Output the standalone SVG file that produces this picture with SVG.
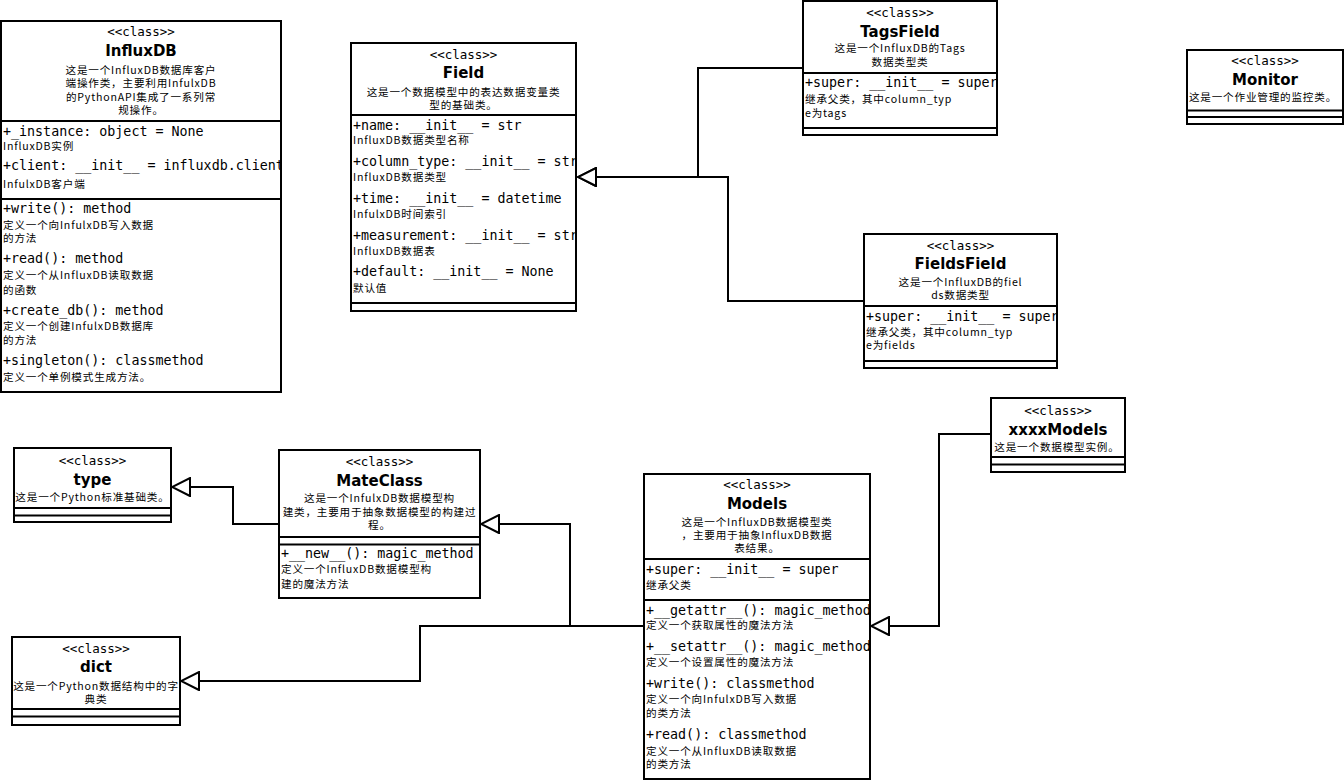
<svg xmlns="http://www.w3.org/2000/svg" width="1344" height="780" viewBox="0 0 1344 780">
<style>
.box{fill:#fff;stroke:#000;stroke-width:2}
.sep{stroke:#000;stroke-width:2}
.st{font-family:"DejaVu Sans Mono",monospace;font-size:12.5px;text-anchor:middle}
.nm{font-family:"DejaVu Sans",sans-serif;font-weight:bold;font-size:15px;text-anchor:middle}
.ds{font-family:"Noto Sans CJK SC",sans-serif;font-size:10.6px;letter-spacing:0.8px;text-anchor:middle}
.at{font-family:"DejaVu Sans Mono",monospace;font-size:13.33px}
.nt{font-family:"Noto Sans CJK SC",sans-serif;font-size:10.6px;letter-spacing:0.8px}
.conn{fill:none;stroke:#000;stroke-width:2;marker-end:url(#tri)}
</style>
<defs>
<marker id="tri" viewBox="0 0 20 20" refX="19" refY="10" markerWidth="20" markerHeight="20" markerUnits="userSpaceOnUse" orient="auto">
<path d="M1,1 L19,10 L1,19 Z" fill="#fff" stroke="#000" stroke-width="2"/>
</marker>
<clipPath id="c1"><rect x="1" y="21" width="280" height="371"/></clipPath>
<clipPath id="c2"><rect x="351" y="43" width="225" height="268"/></clipPath>
<clipPath id="c3"><rect x="803" y="1" width="194" height="134"/></clipPath>
<clipPath id="c4"><rect x="864" y="234" width="193" height="134"/></clipPath>
<clipPath id="c5"><rect x="1187" y="50" width="156" height="74"/></clipPath>
<clipPath id="c6"><rect x="14" y="448" width="157" height="74"/></clipPath>
<clipPath id="c7"><rect x="279" y="450" width="201" height="148"/></clipPath>
<clipPath id="c8"><rect x="12" y="637" width="168" height="88"/></clipPath>
<clipPath id="c9"><rect x="644" y="474" width="226" height="305"/></clipPath>
<clipPath id="c10"><rect x="991" y="398" width="134" height="74"/></clipPath>
</defs>
<rect width="1344" height="780" fill="#fff"/>

<g id="connectors">
<path class="conn" d="M803,68 H698 V177 H578"/>
<path class="conn" d="M864,301 H728 V177 H578"/>
<path class="conn" d="M279,524 H233 V487 H172"/>
<path class="conn" d="M644,626 H570 V524 H481"/>
<path class="conn" d="M644,626 H420 V681 H181"/>
<path class="conn" d="M991,434 H939 V626 H871"/>
</g>

<g id="InfluxDB">
<rect class="box" x="1" y="21" width="280" height="371"/>
<line class="sep" x1="1" y1="121" x2="281" y2="121"/>
<line class="sep" x1="1" y1="199" x2="281" y2="199"/>
<g clip-path="url(#c1)">
<text class="st" x="141" y="36">&lt;&lt;class&gt;&gt;</text>
<text class="nm" x="141" y="56">InfluxDB</text>
<text class="ds" x="141" y="73.5">这是一个InfluxDB数据库客户</text>
<text class="ds" x="141" y="87">端操作类，主要利用InfulxDB</text>
<text class="ds" x="141" y="100.5">的PythonAPI集成了一系列常</text>
<text class="ds" x="141" y="114">规操作。</text>
<text class="at" x="3" y="135.5">+_instance: object = None</text>
<text class="nt" x="3" y="150">InfluxDB实例</text>
<text class="at" x="3" y="170">+client: __init__ = influxdb.client</text>
<text class="nt" x="3" y="187.5">InfulxDB客户端</text>
<text class="at" x="3" y="212.5">+write(): method</text>
<text class="nt" x="3" y="229">定义一个向InfulxDB写入数据</text>
<text class="nt" x="3" y="242">的方法</text>
<text class="at" x="3" y="262.5">+read(): method</text>
<text class="nt" x="3" y="279">定义一个从InfluxDB读取数据</text>
<text class="nt" x="3" y="294">的函数</text>
<text class="at" x="3" y="314.5">+create_db(): method</text>
<text class="nt" x="3" y="330">定义一个创建InfulxDB数据库</text>
<text class="nt" x="3" y="344">的方法</text>
<text class="at" x="3" y="364.5">+singleton(): classmethod</text>
<text class="nt" x="3" y="381">定义一个单例模式生成方法。</text>
</g>
</g>

<g id="Field">
<rect class="box" x="351" y="43" width="225" height="268"/>
<line class="sep" x1="351" y1="115" x2="576" y2="115"/>
<line class="sep" x1="351" y1="303" x2="576" y2="303"/>
<g clip-path="url(#c2)">
<text class="st" x="463.5" y="59">&lt;&lt;class&gt;&gt;</text>
<text class="nm" x="463.5" y="78">Field</text>
<text class="ds" x="463.5" y="96">这是一个数据模型中的表达数据变量类</text>
<text class="ds" x="463.5" y="109">型的基础类。</text>
<text class="at" x="353" y="129.5">+name: __init__ = str</text>
<text class="nt" x="353" y="144">InfluxDB数据类型名称</text>
<text class="at" x="353" y="166">+column_type: __init__ = str</text>
<text class="nt" x="353" y="181">InfluxDB数据类型</text>
<text class="at" x="353" y="202.5">+time: __init__ = datetime</text>
<text class="nt" x="353" y="218">InfulxDB时间索引</text>
<text class="at" x="353" y="239.5">+measurement: __init__ = str</text>
<text class="nt" x="353" y="255">InfluxDB数据表</text>
<text class="at" x="353" y="276">+default: __init__ = None</text>
<text class="nt" x="353" y="292">默认值</text>
</g>
</g>

<g id="TagsField">
<rect class="box" x="803" y="1" width="194" height="134"/>
<line class="sep" x1="803" y1="73" x2="997" y2="73"/>
<line class="sep" x1="803" y1="128" x2="997" y2="128"/>
<g clip-path="url(#c3)">
<text class="st" x="900" y="17">&lt;&lt;class&gt;&gt;</text>
<text class="nm" x="900" y="37">TagsField</text>
<text class="ds" x="900" y="52">这是一个InfluxDB的Tags</text>
<text class="ds" x="900" y="66">数据类型类</text>
<text class="at" x="805" y="86.5">+super: __init__ = super</text>
<text class="nt" x="805" y="103">继承父类，其中column_typ</text>
<text class="nt" x="805" y="117">e为tags</text>
</g>
</g>

<g id="FieldsField">
<rect class="box" x="864" y="234" width="193" height="134"/>
<line class="sep" x1="864" y1="306" x2="1057" y2="306"/>
<line class="sep" x1="864" y1="361" x2="1057" y2="361"/>
<g clip-path="url(#c4)">
<text class="st" x="960.5" y="250">&lt;&lt;class&gt;&gt;</text>
<text class="nm" x="960.5" y="268.5">FieldsField</text>
<text class="ds" x="960.5" y="286">这是一个InfluxDB的fiel</text>
<text class="ds" x="960.5" y="299">ds数据类型</text>
<text class="at" x="866" y="320.5">+super: __init__ = super</text>
<text class="nt" x="866" y="336">继承父类，其中column_typ</text>
<text class="nt" x="866" y="349">e为fields</text>
</g>
</g>

<g id="Monitor">
<rect class="box" x="1187" y="50" width="156" height="74"/>
<line class="sep" x1="1187" y1="110.5" x2="1343" y2="110.5"/>
<line class="sep" x1="1187" y1="117" x2="1343" y2="117"/>
<g clip-path="url(#c5)">
<text class="st" x="1265" y="65">&lt;&lt;class&gt;&gt;</text>
<text class="nm" x="1265" y="84.5">Monitor</text>
<text class="ds" x="1263" y="101">这是一个作业管理的监控类。</text>
</g>
</g>

<g id="type">
<rect class="box" x="14" y="448" width="157" height="74"/>
<line class="sep" x1="14" y1="508" x2="171" y2="508"/>
<line class="sep" x1="14" y1="515.5" x2="171" y2="515.5"/>
<g clip-path="url(#c6)">
<text class="st" x="92.5" y="465">&lt;&lt;class&gt;&gt;</text>
<text class="nm" x="92.5" y="485">type</text>
<text class="ds" x="92.5" y="501">这是一个Python标准基础类。</text>
</g>
</g>

<g id="MateClass">
<rect class="box" x="279" y="450" width="201" height="148"/>
<line class="sep" x1="279" y1="537" x2="480" y2="537"/>
<line class="sep" x1="279" y1="544.5" x2="480" y2="544.5"/>
<g clip-path="url(#c7)">
<text class="st" x="379.5" y="466">&lt;&lt;class&gt;&gt;</text>
<text class="nm" x="379.5" y="485.5">MateClass</text>
<text class="ds" x="379.5" y="502">这是一个InfulxDB数据模型构</text>
<text class="ds" x="379.5" y="516">建类，主要用于抽象数据模型的构建过</text>
<text class="ds" x="379.5" y="529">程。</text>
<text class="at" x="281" y="557.5">+__new__(): magic_method</text>
<text class="nt" x="281" y="573">定义一个InfluxDB数据模型构</text>
<text class="nt" x="281" y="588">建的魔法方法</text>
</g>
</g>

<g id="dict">
<rect class="box" x="12" y="637" width="168" height="88"/>
<line class="sep" x1="12" y1="709" x2="180" y2="709"/>
<line class="sep" x1="12" y1="716.5" x2="180" y2="716.5"/>
<g clip-path="url(#c8)">
<text class="st" x="96" y="653">&lt;&lt;class&gt;&gt;</text>
<text class="nm" x="96" y="672">dict</text>
<text class="ds" x="96" y="690">这是一个Python数据结构中的字</text>
<text class="ds" x="96" y="703">典类</text>
</g>
</g>

<g id="Models">
<rect class="box" x="644" y="474" width="226" height="305"/>
<line class="sep" x1="644" y1="559" x2="870" y2="559"/>
<line class="sep" x1="644" y1="600" x2="870" y2="600"/>
<g clip-path="url(#c9)">
<text class="st" x="757" y="489">&lt;&lt;class&gt;&gt;</text>
<text class="nm" x="757" y="508.5">Models</text>
<text class="ds" x="757" y="526">这是一个InfluxDB数据模型类</text>
<text class="ds" x="757" y="539">，主要用于抽象InfluxDB数据</text>
<text class="ds" x="757" y="552">表结果。</text>
<text class="at" x="646" y="573.5">+super: __init__ = super</text>
<text class="nt" x="646" y="589">继承父类</text>
<text class="at" x="646" y="614.5">+__getattr__(): magic_method</text>
<text class="nt" x="646" y="629">定义一个获取属性的魔法方法</text>
<text class="at" x="646" y="651">+__setattr__(): magic_method</text>
<text class="nt" x="646" y="666">定义一个设置属性的魔法方法</text>
<text class="at" x="646" y="687.5">+write(): classmethod</text>
<text class="nt" x="646" y="703">定义一个向InfulxDB写入数据</text>
<text class="nt" x="646" y="717">的类方法</text>
<text class="at" x="646" y="738.5">+read(): classmethod</text>
<text class="nt" x="646" y="755">定义一个从InfluxDB读取数据</text>
<text class="nt" x="646" y="768">的类方法</text>
</g>
</g>

<g id="xxxxModels">
<rect class="box" x="991" y="398" width="134" height="74"/>
<line class="sep" x1="991" y1="457" x2="1125" y2="457"/>
<line class="sep" x1="991" y1="464.5" x2="1125" y2="464.5"/>
<g clip-path="url(#c10)">
<text class="st" x="1058" y="415">&lt;&lt;class&gt;&gt;</text>
<text class="nm" x="1058" y="435">xxxxModels</text>
<text class="ds" x="1057" y="451">这是一个数据模型实例。</text>
</g>
</g>
</svg>
